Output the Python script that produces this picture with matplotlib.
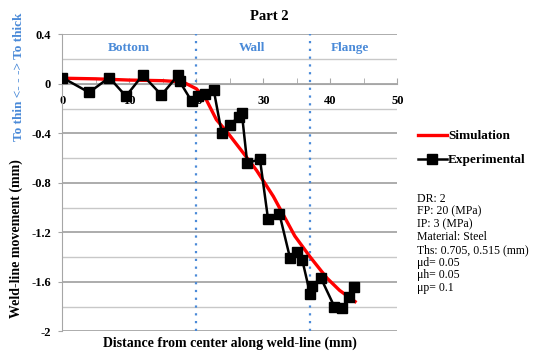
import matplotlib.pyplot as plt
from matplotlib.ticker import MultipleLocator

# simulation curve (red)
sim_x = [0, 5, 10, 15, 18, 20, 21.5, 23, 24.6, 26.6, 29, 31.5, 34.7, 37, 39.5, 41.4, 43.7]
sim_y = [0.045, 0.04, 0.03, 0.025, 0.015, -0.04, -0.13, -0.29, -0.39, -0.53, -0.70, -0.91, -1.23, -1.40, -1.57, -1.67, -1.76]

# experimental points (black squares)
exp_x = [0, 4, 7, 9.5, 12, 14.8, 17.3, 17.5, 19.3, 20.3, 21.3, 22.6, 23.8, 25, 26.3, 26.8,
         27.6, 29.5, 30.7, 32.4, 34, 35, 35.8, 37, 37.3, 38.6, 40.6, 41.8, 42.8, 43.5]
exp_y = [0.05, -0.07, 0.05, -0.1, 0.07, -0.09, 0.07, 0.02, -0.14, -0.1, -0.08, -0.05, -0.4, -0.33,
         -0.27, -0.24, -0.64, -0.61, -1.09, -1.05, -1.41, -1.36, -1.42, -1.7, -1.63, -1.57, -1.8,
         -1.81, -1.72, -1.64]

zone_edges = [20, 37]
zone_names = ['Bottom', 'Wall', 'Flange']
zone_centres = [10, 28.3, 43]

params = ['DR: 2', 'FP: 20 (MPa)', 'IP: 3 (MPa)', 'Material: Steel',
          'Ths: 0.705, 0.515 (mm)', 'μd= 0.05', 'μh= 0.05', 'μp= 0.1']

plt.rcParams['font.family'] = ['Liberation Serif', 'DejaVu Serif']
blue = '#4a8ad8'

fig = plt.figure(figsize=(5.39, 3.56), dpi=100)
ax = fig.add_axes([0.1156, 0.0694, 0.6215, 0.8343])

ax.set_xlim(0, 50)
ax.set_ylim(-2, 0.4)
ax.yaxis.set_major_locator(MultipleLocator(0.4))
ax.yaxis.set_minor_locator(MultipleLocator(0.2))
ax.xaxis.set_major_locator(MultipleLocator(10))
ax.xaxis.set_minor_locator(MultipleLocator(5))
ax.grid(True, which='major', axis='y', color='#a6a6a6', lw=1.3)
ax.grid(True, which='minor', axis='y', color='#c8c8c8', lw=1.0)
ax.set_axisbelow(True)

for s in ['top', 'right']:
    ax.spines[s].set_visible(False)
ax.spines['bottom'].set_position(('data', 0))
ax.spines['bottom'].set_color('#a6a6a6')
ax.spines['left'].set_color('#a6a6a6')
ax.tick_params(axis='x', which='both', direction='in', length=4, color='#a6a6a6', pad=8)
ax.tick_params(axis='y', which='major', length=3, color='#a6a6a6', pad=5)
ax.tick_params(axis='y', which='minor', length=0)

ax.set_yticks([0.4, 0, -0.4, -0.8, -1.2, -1.6, -2])
ax.set_yticklabels(['0.4', '0', '-0.4', '-0.8', '-1.2', '-1.6', '-2'])
for lab in ax.get_xticklabels() + ax.get_yticklabels():
    lab.set_fontweight('bold')
    lab.set_fontsize(9)

for xe in zone_edges:
    ax.axvline(xe, color=blue, ls=(0, (1, 2.5)), lw=1.6)
for name, xc in zip(zone_names, zone_centres):
    ax.text(xc, 0.29, name, color=blue, fontsize=9.5, fontweight='bold', ha='center', va='center')

sim, = ax.plot(sim_x, sim_y, color='red', lw=2.4, label='Simulation', zorder=3)
exp, = ax.plot(exp_x, exp_y, color='black', lw=1.8, marker='s', markersize=7,
               label='Experimental', zorder=4)

ax.legend(handles=[sim, exp], loc='upper left', bbox_to_anchor=(1.045, 0.695), frameon=False,
          prop={'weight': 'bold', 'size': 9.5}, handlelength=2.2, handletextpad=0.1,
          labelspacing=0.9, borderaxespad=0)

fig.text(0.5, 0.955, 'Part 2', ha='center', va='center', fontsize=10.5, fontweight='bold')
fig.text(0.427, 0.035, 'Distance from center along weld-line (mm)', ha='center', va='center',
         fontsize=10, fontweight='bold')
fig.text(0.03, 0.33, 'Weld-line movement (mm)', rotation=90, ha='center', va='center',
         fontsize=10, fontweight='bold')
fig.text(0.035, 0.785, 'To thin <- - -> To thick', rotation=90, ha='center', va='center',
         fontsize=9.5, fontweight='bold', color=blue)

fig.text(0.774, 0.458, '\n'.join(params), ha='left', va='top', fontsize=8.5, linespacing=1.08)

fig.savefig('out.png', dpi=100)
